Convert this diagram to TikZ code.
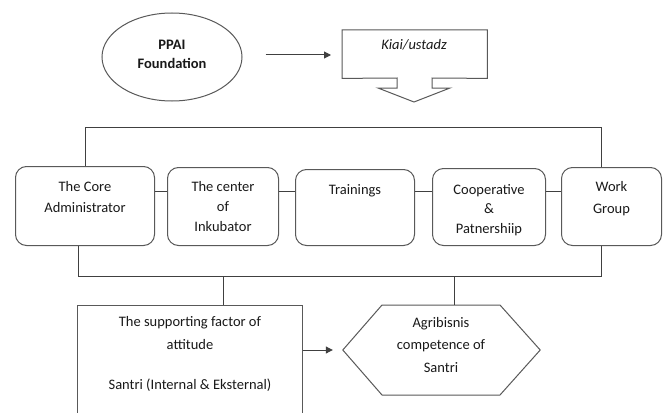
\documentclass[tikz,border=0pt]{standalone}
\usepackage{fontspec}
\setmainfont{Carlito}
\usetikzlibrary{arrows.meta,shapes.geometric}
\begin{document}
\begin{tikzpicture}[x=1pt,y=-1pt,
  ln/.style={draw=black!75, line width=1pt},
  shp/.style={draw=black!65, line width=1pt},
  rbox/.style={shp, rounded corners=11pt, inner sep=0pt, anchor=north west},
  txt/.style={font=\fontsize{14.5}{21}\selectfont, align=center, inner sep=0pt, text=black!90},
  arr/.style={ln, -{Triangle[length=7pt,width=7pt]}}]
\useasboundingbox[fill=white] (0,0) rectangle (666,412);

% top
\node[shp, ellipse, minimum width=140pt, minimum height=88pt, inner sep=0pt] (ppai) at (172,57) {};
\node[txt, font=\fontsize{14.5}{19}\selectfont\bfseries] (ppait) at (172,54) {PPAI\\Foundation};
\node[inner sep=0pt, minimum width=145pt, minimum height=48pt, anchor=north west] (kiai) at (342,30) {};
\draw[shp] (kiai.north west) -- (kiai.north east) -- (kiai.south east) -- (432,78) -- (432,88) -- (450,88)
  -- (414,102) -- (378,88) -- (397,88) -- (397,78) -- (kiai.south west) -- cycle;
\node[txt, anchor=north, font=\fontsize{14.5}{21}\selectfont\itshape] (kiait) at (414,39) {Kiai/ustadz};
\draw[arr, shorten <=23pt, shorten >=11pt] (ppai.east |- 0,55) -- (kiai.west |- 0,55);

% row of boxes
\node[rbox, minimum width=139pt, minimum height=79pt] (core) at (15,166) {};
\node[rbox, minimum width=111pt, minimum height=78pt] (center) at (167,167) {};
\node[rbox, minimum width=119pt, minimum height=76pt] (train) at (295,169) {};
\node[rbox, minimum width=113pt, minimum height=77pt] (coop) at (432,168) {};
\node[rbox, minimum width=100pt, minimum height=78pt] (work) at (561,167) {};

\node[txt, anchor=north] (coret) at (core.north |- 0,181) {The Core\\Administrator};
\node[txt, anchor=north, font=\fontsize{14.5}{20}\selectfont] (centert) at (center.north |- 0,181) {The center\\of\\Inkubator};
\node[txt, anchor=north] (traint) at (train.north |- 0,184) {Trainings};
\begin{scope}
\clip (coop.north west) rectangle (coop.east |- 0,236);
\node[txt, anchor=north, font=\fontsize{14.5}{19.5}\selectfont] (coopt) at (coop.north |- 0,184) {Cooperative\\\&\\Patnershiip};
\end{scope}
\node[txt, anchor=north, font=\fontsize{14.5}{22}\selectfont] (workt) at (work.north |- 0,181) {Work\\Group};

\coordinate (row) at (0,191);
\draw[ln] (core.east |- row) -- (center.west |- row);
\draw[ln] (center.east |- row) -- (train.west |- row);
\draw[ln] (train.east |- row) -- (coop.west |- row);
\draw[ln] (coop.east |- row) -- (work.west |- row);

\coordinate (tl) at (85,127);
\coordinate (tr) at (601,127);
\draw[ln] (core.north -| tl) -- (tl) -- (tr) -- (work.north -| tr);

\coordinate (bl) at (78,276);
\coordinate (br) at (601,276);
\draw[ln] (core.south -| bl) -- (bl) -- (br) -- (work.south -| br);

% bottom
\node[shp, inner sep=0pt, minimum width=225pt, minimum height=130pt, anchor=north west] (supp) at (77,305) {};
\node[txt, anchor=north, font=\fontsize{14.5}{23}\selectfont] (suppt) at (190,316) {The supporting factor of\\attitude};
\node[txt, anchor=north] (suppt2) at (190,379) {Santri (Internal \& Eksternal)};

\node[inner sep=0pt, minimum width=197pt, minimum height=90pt] (agri) at (441.5,350) {};
\draw[shp] (agri.west) -- (382,305) -- (500,305) -- (agri.east) -- (500,395) -- (382,395) -- cycle;
\node[txt, anchor=north, font=\fontsize{14.5}{22.5}\selectfont] (agrit) at (441,317) {Agribisnis\\competence of\\Santri};

\draw[ln] (bl -| 223,0) -- (supp.north -| 223,0);
\draw[ln] (bl -| 454,0) -- (agri.north -| 454,0);
\draw[arr, shorten >=10pt] (supp.east |- 0,350) -- (agri.west);
\end{tikzpicture}
\end{document}
